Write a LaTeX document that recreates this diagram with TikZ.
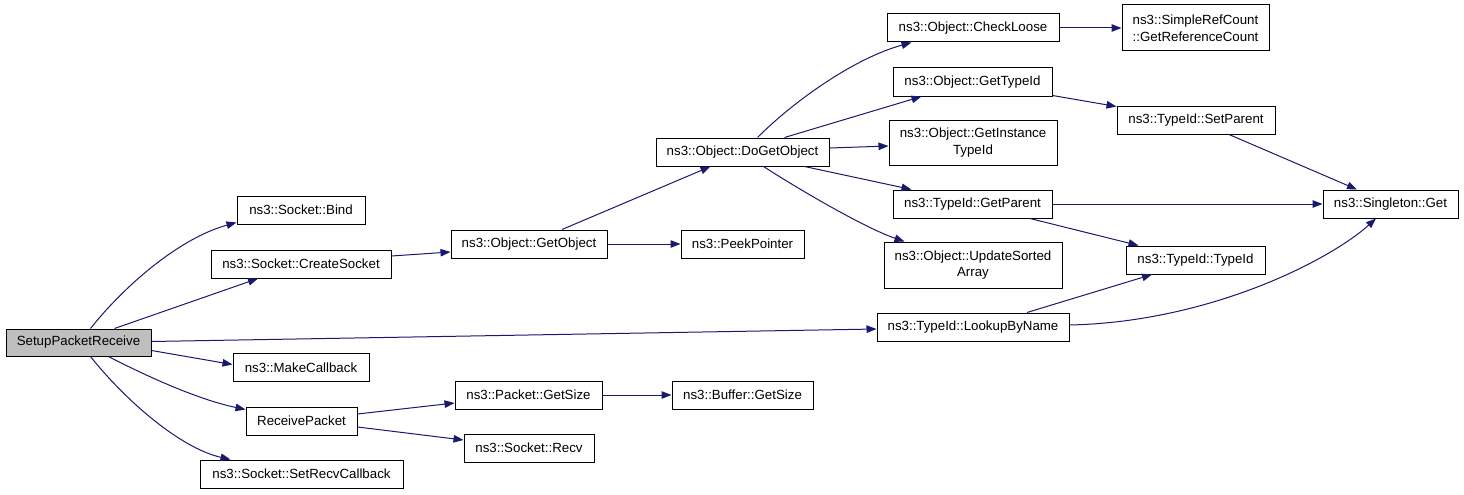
\documentclass[tikz,border=0pt]{standalone}
\usepackage{fontspec}
\setmainfont{Liberation Sans}
\usetikzlibrary{arrows.meta}
\definecolor{edgecol}{HTML}{191970}
\definecolor{rootfill}{HTML}{BFBFBF}
\begin{document}
\begin{tikzpicture}[x=1pt,y=-1pt,
  box/.style={draw=black,line width=1pt,fill=white,inner sep=0pt,minimum height=28pt,align=center,
    font=\fontsize{13.3}{16.5}\selectfont},
  edge/.style={draw=edgecol,line width=1pt,-{Triangle[length=10pt,width=7.5pt]}}]
\useasboundingbox (0,0) rectangle (1464,495);
\fill[white] (0,0) rectangle (1464,495);
% nodes
\node[box,fill=rootfill,minimum width=145pt,minimum height=27pt] (spr) at (78.5,342.5) {SetupPacketReceive};
\node[box,minimum width=128pt] (bind) at (301,210) {ns3::Socket::Bind};
\node[box,minimum width=180pt] (create) at (301,264) {ns3::Socket::CreateSocket};
\node[box,minimum width=136pt] (make) at (301,367.5) {ns3::MakeCallback};
\node[box,minimum width=111pt] (recvpkt) at (301.5,421) {ReceivePacket};
\node[box,minimum width=203pt] (setrecv) at (301.5,474) {ns3::Socket::SetRecvCallback};
\node[box,minimum width=156pt] (getobj) at (529,244) {ns3::Object::GetObject};
\node[box,minimum width=123pt] (peek) at (742.5,244) {ns3::PeekPointer};
\node[box,minimum width=173pt] (dogetobj) at (742.5,152) {ns3::Object::DoGetObject};
\node[box,minimum width=147pt] (pktsize) at (528.5,395) {ns3::Packet::GetSize};
\node[box,minimum width=141pt] (bufsize) at (742.5,395) {ns3::Buffer::GetSize};
\node[box,minimum width=130pt] (sockrecv) at (529,448) {ns3::Socket::Recv};
\node[box,minimum width=172pt] (checkloose) at (973,28) {ns3::Object::CheckLoose};
\node[box,minimum width=147pt,minimum height=46pt] (simpleref) at (1195.5,28) {ns3::SimpleRefCount\\::GetReferenceCount};
\node[box,minimum width=159pt] (gettypeid) at (972.5,82) {ns3::Object::GetTypeId};
\node[box,minimum width=168pt,minimum height=45pt] (getinst) at (973,142.5) {ns3::Object::GetInstance\\TypeId};
\node[box,minimum width=159pt] (getparent) at (972.5,204) {ns3::TypeId::GetParent};
\node[box,minimum width=178pt,minimum height=46pt] (update) at (973,265) {ns3::Object::UpdateSorted\\Array};
\node[box,minimum width=192pt] (lookup) at (973,327) {ns3::TypeId::LookupByName};
\node[box,minimum width=158pt] (setparent) at (1196,120) {ns3::TypeId::SetParent};
\node[box,minimum width=139pt] (typeid) at (1195.5,260) {ns3::TypeId::TypeId};
\node[box,minimum width=135pt] (singleton) at (1390.5,204) {ns3::Singleton::Get};
% edges
\draw[edge] ([xshift=12pt]spr.north) .. controls (125,285) and (180,238) .. ([yshift=2pt]bind.south west);
\draw[edge] ([xshift=36pt]spr.north) -- ([xshift=-43pt]create.south);
\draw[edge] ([yshift=1pt]spr.east) -- ([yshift=-2pt]lookup.west);
\draw[edge] ([yshift=-8pt]spr.east) -- ([yshift=3pt]make.west);
\draw[edge] ([xshift=30pt]spr.south) .. controls (150,378) and (200,400) .. ([yshift=-3pt]recvpkt.north west);
\draw[edge] ([xshift=12pt]spr.south) .. controls (125,400) and (180,448) .. ([xshift=-71pt]setrecv.north);
\draw[edge] ([yshift=8pt]create.east) -- ([yshift=-8pt]getobj.west);
\draw[edge] ([xshift=33pt]getobj.north) -- ([xshift=-32pt]dogetobj.south);
\draw[edge] (getobj.east) -- (peek.west);
\draw[edge] ([xshift=15pt]dogetobj.north) .. controls (795,100) and (855,58) .. ([xshift=25pt]checkloose.south west);
\draw[edge] ([xshift=42pt]dogetobj.north) -- ([xshift=29pt]gettypeid.south west);
\draw[edge] ([yshift=4pt]dogetobj.east) -- ([yshift=-3.5pt]getinst.west);
\draw[edge] ([xshift=62pt]dogetobj.south) -- ([xshift=19pt]getparent.north west);
\draw[edge] ([xshift=21pt]dogetobj.south) .. controls (800,190) and (865,228) .. ([xshift=21pt]update.north west);
\draw[edge] ([yshift=1pt]gettypeid.south east) -- ([yshift=-1pt]setparent.north west);
\draw[edge] ([xshift=33pt]setparent.south) -- ([xshift=-33.5pt]singleton.north);
\draw[edge] (getparent.east) -- (singleton.west);
\draw[edge] ([xshift=57.5pt]getparent.south) -- ([xshift=13pt]typeid.north west);
\draw[edge] ([xshift=54pt]lookup.north) -- ([xshift=-43.5pt]typeid.south);
\draw[edge] ([yshift=2pt]lookup.east) .. controls (1210,322) and (1330,260) .. ([xshift=-14.5pt]singleton.south);
\draw[edge] (checkloose.east) -- (simpleref.west);
\draw[edge] ([yshift=7pt]recvpkt.east) -- ([yshift=-8pt]pktsize.west);
\draw[edge] ([yshift=-6pt]recvpkt.east) -- ([yshift=8pt]sockrecv.west);
\draw[edge] (pktsize.east) -- (bufsize.west);
\end{tikzpicture}
\end{document}
